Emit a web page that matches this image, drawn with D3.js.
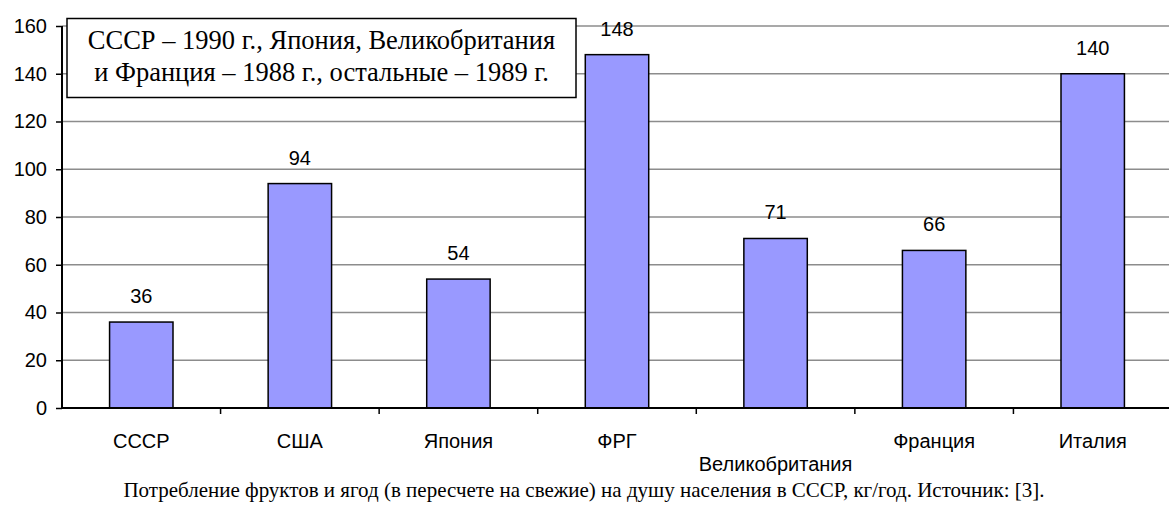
<!DOCTYPE html>
<html>
<head>
<meta charset="utf-8">
<script src="https://cdn.jsdelivr.net/npm/d3@7"></script>
<style>
  body { margin: 0; background: #fff; }
  svg { display: block; }
  .tick text { font-family: "Liberation Sans", Arial, sans-serif; font-size: 20px; fill: #000; }
</style>
</head>
<body>
<div id="chart"></div>
<script>
var countries = ["СССР", "США", "Япония", "ФРГ", "Великобритания", "Франция", "Италия"];
var consumption = [36, 94, 54, 148, 71, 66, 140];
var yTicks = [0, 20, 40, 60, 80, 100, 120, 140, 160];
var noteLines = ["СССР – 1990 г., Япония, Великобритания", "и Франция – 1988 г., остальные – 1989 г."];
var caption = "Потребление фруктов и ягод (в пересчете на свежие) на душу населения в СССР, кг/год.  Источник: [3].";

var svgWidth = 1169;
var svgHeight = 513;
var margin = { top: 26, right: -3, bottom: 105, left: 62 };
var width = svgWidth - margin.left - margin.right;
var height = svgHeight - margin.top - margin.bottom;

var svg = d3.select("#chart")
  .append("svg")
  .attr("width", svgWidth)
  .attr("height", svgHeight);

var chartGroup = svg.append("g")
  .attr("transform", `translate(${margin.left}, ${margin.top})`);

var xScale = d3.scaleBand()
  .domain(countries)
  .range([0, width])
  .paddingInner(0.6)
  .paddingOuter(0.3);

var yScale = d3.scaleLinear()
  .domain([0, 160])
  .range([height, 0]);

// gridlines
chartGroup.append("g")
  .selectAll("line")
  .data(yTicks.filter(d => d > 0))
  .enter()
  .append("line")
  .attr("x1", 0)
  .attr("x2", width)
  .attr("y1", d => yScale(d))
  .attr("y2", d => yScale(d))
  .attr("stroke", "#8c8c8c")
  .attr("stroke-width", 1.5);

// bars
chartGroup.selectAll("rect.bar")
  .data(consumption)
  .enter()
  .append("rect")
  .attr("class", "bar")
  .attr("x", (d, i) => xScale(countries[i]))
  .attr("y", d => yScale(d))
  .attr("width", xScale.bandwidth())
  .attr("height", d => height - yScale(d))
  .attr("fill", "#9999ff")
  .attr("stroke", "#000")
  .attr("stroke-width", 1.5);

// value labels
chartGroup.selectAll("text.val")
  .data(consumption)
  .enter()
  .append("text")
  .attr("class", "val")
  .attr("x", (d, i) => xScale(countries[i]) + xScale.bandwidth() / 2)
  .attr("y", d => yScale(d) - 19)
  .attr("text-anchor", "middle")
  .style("font-family", "'Liberation Sans', Arial, sans-serif")
  .style("font-size", "20px")
  .text(d => d);

// y axis
var leftAxis = d3.axisLeft(yScale).tickValues(yTicks).tickSize(6).tickPadding(9);
var yAxisG = chartGroup.append("g").call(leftAxis);
yAxisG.select(".domain").attr("stroke-width", 2).attr("d", `M0,${height}V0`);
yAxisG.selectAll(".tick line").attr("stroke-width", 1.5);

// x axis with category separators
var sepData = d3.range(1, countries.length + 1).map(i => i * width / countries.length);
var xAxisG = chartGroup.append("g").attr("transform", `translate(0, ${height})`);
xAxisG.append("line")
  .attr("x1", 0).attr("x2", width)
  .attr("stroke", "#000").attr("stroke-width", 2);
xAxisG.selectAll("line.sep")
  .data(sepData)
  .enter()
  .append("line")
  .attr("class", "sep")
  .attr("x1", d => d).attr("x2", d => d)
  .attr("y1", 0).attr("y2", 6)
  .attr("stroke", "#000").attr("stroke-width", 1.5);
xAxisG.selectAll("text")
  .data(countries)
  .enter()
  .append("text")
  .attr("x", d => xScale(d) + xScale.bandwidth() / 2)
  .attr("y", (d, i) => i === 4 ? 63 : 40)
  .attr("text-anchor", "middle")
  .style("font-family", "'Liberation Sans', Arial, sans-serif")
  .style("font-size", "20px")
  .text(d => d);

// note box
var note = svg.append("g");
note.append("rect")
  .attr("x", 67).attr("y", 18.5)
  .attr("width", 509).attr("height", 79)
  .attr("fill", "#fff")
  .attr("stroke", "#000")
  .attr("stroke-width", 1.5);
note.selectAll("text")
  .data(noteLines)
  .enter()
  .append("text")
  .attr("x", 321.5)
  .attr("y", (d, i) => 49 + i * 32)
  .attr("text-anchor", "middle")
  .style("font-family", "'Liberation Serif', 'Times New Roman', serif")
  .style("font-size", "26.5px")
  .text(d => d);

// caption
svg.append("text")
  .attr("x", 584)
  .attr("y", 497)
  .attr("text-anchor", "middle")
  .style("font-family", "'Liberation Serif', 'Times New Roman', serif")
  .style("font-size", "21px")
  .text(caption);
</script>
</body>
</html>
